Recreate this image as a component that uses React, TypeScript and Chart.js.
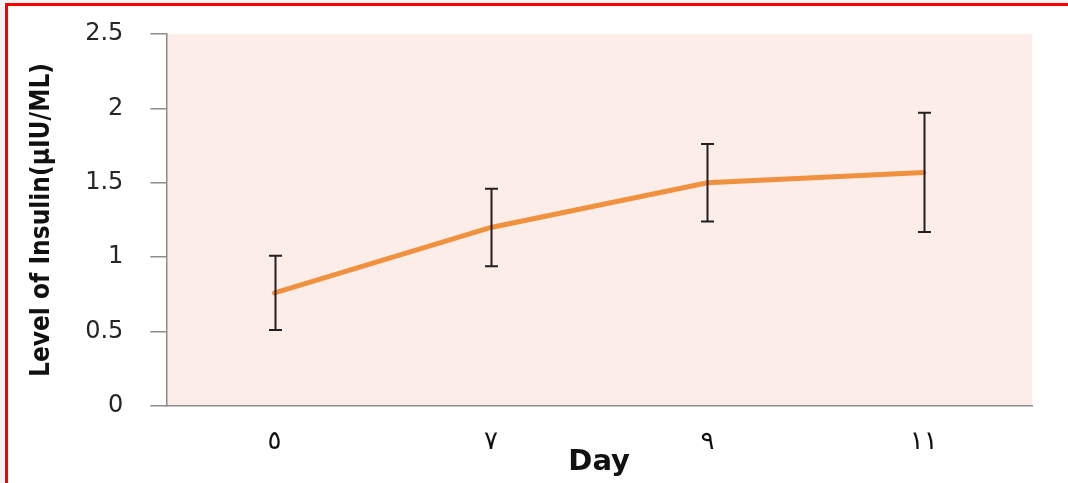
import React, { useEffect, useRef } from "react";
import { Chart, registerables } from "chart.js";

Chart.register(...registerables);

const categories = ["٥", "٧", "٩", "١١"];
const insulinMeans = [0.76, 1.2, 1.5, 1.57];
const insulinErrors = [0.25, 0.26, 0.26, 0.4];
const yTickValues = [0, 0.5, 1, 1.5, 2, 2.5];
const yTickLabels = ["0", "0.5", "1", "1.5", "2", "2.5"];

const plotBg = {
  id: "plotBg",
  beforeDraw(chart: any) {
    const { ctx, chartArea } = chart;
    if (!chartArea) return;
    ctx.save();
    ctx.fillStyle = "#FCEDE8";
    ctx.fillRect(chartArea.left, chartArea.top, chartArea.right - chartArea.left, chartArea.bottom - chartArea.top);
    ctx.restore();
  },
};

const errorBars = {
  id: "errorBars",
  afterDatasetsDraw(chart: any) {
    const { ctx } = chart;
    const xs = chart.scales.x;
    const ys = chart.scales.y;
    ctx.save();
    ctx.strokeStyle = "#231F20";
    ctx.lineWidth = 2;
    insulinMeans.forEach((m, i) => {
      const x = Math.round(xs.getPixelForValue(i)) + 0.5;
      const top = ys.getPixelForValue(m + insulinErrors[i]);
      const bot = ys.getPixelForValue(m - insulinErrors[i]);
      ctx.beginPath();
      ctx.moveTo(x, top);
      ctx.lineTo(x, bot);
      ctx.moveTo(x - 6.5, top);
      ctx.lineTo(x + 6.5, top);
      ctx.moveTo(x - 6.5, bot);
      ctx.lineTo(x + 6.5, bot);
      ctx.stroke();
    });
    ctx.restore();
  },
};

export default function App() {
  const ref = useRef<HTMLCanvasElement>(null);
  useEffect(() => {
    if (!ref.current) return;
    const chart = new Chart(ref.current, {
      type: "line",
      data: {
        labels: categories,
        datasets: [
          {
            data: insulinMeans,
            borderColor: "#F0913F",
            borderWidth: 5,
            pointRadius: 0,
            tension: 0,
            borderCapStyle: "round",
          },
        ],
      },
      options: {
        animation: false,
        responsive: false,
        events: [],
        layout: { padding: { top: 34, right: 36, bottom: 3, left: 27 } },
        plugins: { legend: { display: false }, tooltip: { enabled: false } },
        scales: {
          x: {
            type: "category",
            offset: true,
            grid: { display: false, drawTicks: false },
            border: { display: true, color: "#8C8C8C", width: 1.5 },
            ticks: {
              color: "#111111",
              font: { family: "DejaVu Sans", size: 26 },
              padding: 21,
            },
            title: {
              display: true,
              text: "Day",
              color: "#111111",
              font: { family: "DejaVu Sans", size: 29, weight: "bold" },
              padding: { top: -34, bottom: 0 },
            },
          },
          y: {
            min: 0,
            max: 2.5,
            afterBuildTicks(scale: any) {
              scale.ticks = yTickValues.map((v) => ({ value: v }));
            },
            afterFit(scale: any) {
              scale.paddingTop = 0;
              scale.paddingBottom = 0;
            },
            grid: {
              drawOnChartArea: false,
              drawTicks: true,
              tickLength: 16,
              color: "#8C8C8C",
              lineWidth: 1.5,
            },
            border: { display: true, color: "#8C8C8C", width: 1.5 },
            ticks: {
              color: "#262626",
              font: { family: "DejaVu Sans", size: 24 },
              padding: 27,
              callback: (_v: any, i: number) => yTickLabels[i],
            },
            title: {
              display: true,
              text: "Level of Insulin(µIU/ML)",
              color: "#111111",
              font: { family: "DejaVu Sans Condensed, DejaVu Sans", size: 26, weight: "bold" },
              padding: { top: 0, bottom: 0 },
            },
          },
        },
      },
      plugins: [plotBg, errorBars],
    } as any);
    return () => chart.destroy();
  }, []);

  return (
    <div style={{ position: "fixed", left: 0, top: 0, width: 1068, height: 483, background: "#F4F4F4", overflow: "hidden" }}>
      <div
        style={{
          position: "absolute",
          left: 5,
          top: 3,
          width: 1068,
          height: 483,
          background: "#FFFFFF",
          borderLeft: "3px solid #FF0000",
          borderTop: "3px solid #FF0000",
        }}
      />
      <canvas ref={ref} width={1068} height={483} style={{ position: "absolute", left: 0, top: 0, width: 1068, height: 483 }} />
    </div>
  );
}
